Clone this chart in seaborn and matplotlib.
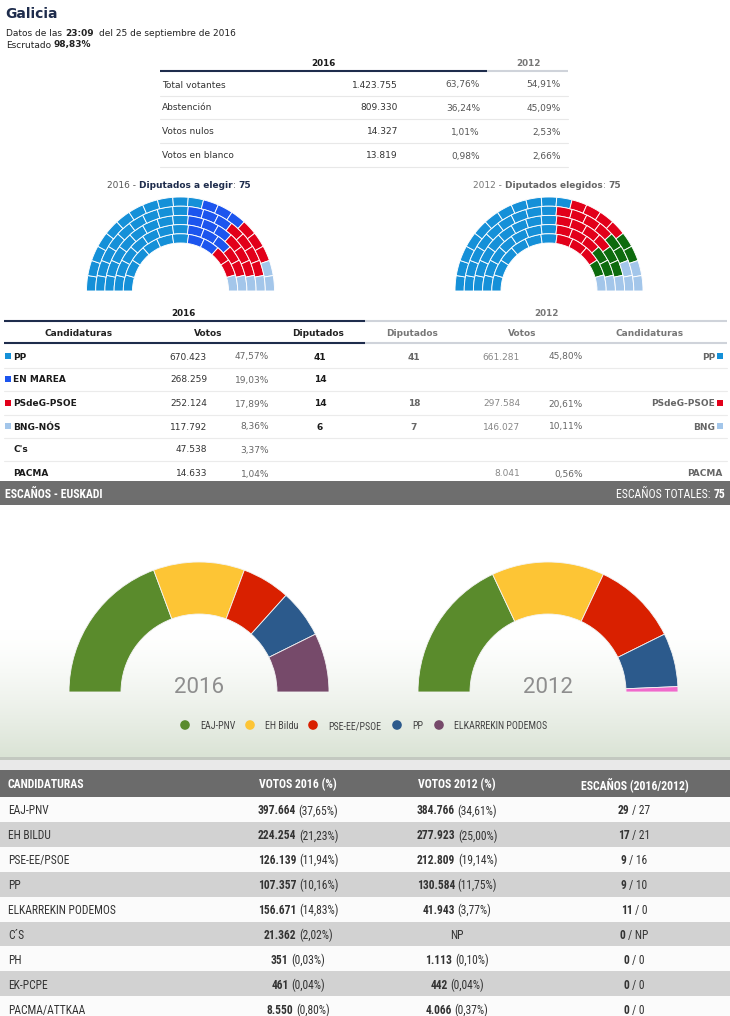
import numpy as np
import matplotlib
matplotlib.use("Agg")
import matplotlib.pyplot as plt
from matplotlib.patches import Wedge, Rectangle
from matplotlib import font_manager
import seaborn as sns

# ---------------- DATA ----------------
# Galicia summary
sum_labels = ["Total votantes", "Abstención", "Votos nulos", "Votos en blanco"]
sum_votes16 = [1423755, 809330, 14327, 13819]
sum_pct16 = [63.76, 36.24, 1.01, 0.98]
sum_pct12 = [54.91, 45.09, 2.53, 2.66]

# Galicia parties 2016 table
gal16_names = ["PP", "EN MAREA", "PSdeG-PSOE", "BNG-NÓS", "C's", "PACMA"]
gal16_votes = [670423, 268259, 252124, 117792, 47538, 14633]
gal16_pct = [47.57, 19.03, 17.89, 8.36, 3.37, 1.04]
gal16_seats = [41, 14, 14, 6, None, None]
gal16_colors = ["#1590d8", "#1c55ee", "#e2001a", "#a3c6ea", None, None]

# Galicia parties 2012 table
gal12_names = ["PP", None, "PSdeG-PSOE", "BNG", None, "PACMA"]
gal12_votes = [661281, None, 297584, 146027, None, 8041]
gal12_pct = [45.80, None, 20.61, 10.11, None, 0.56]
gal12_seats = [41, None, 18, 7, None, None]
gal12_colors = ["#1590d8", None, "#e2001a", "#a3c6ea", None, None]

# Galicia hemicycles
hemi16_parties = ["PP", "EN MAREA", "PSdeG-PSOE", "BNG-NÓS"]
hemi16_seats = [41, 14, 14, 6]
hemi16_colors = ["#1590d8", "#1c55ee", "#e2001a", "#a3c6ea"]
hemi12_parties = ["PP", "PSdeG-PSOE", "AGE", "BNG"]
hemi12_seats = [41, 18, 9, 7]
hemi12_colors = ["#1590d8", "#e2001a", "#0d6b0d", "#a3c6ea"]

# Euskadi seats (semi-donuts)
eus_donut_parties16 = ["EAJ-PNV", "EH Bildu", "PSE-EE/PSOE", "PP", "ELKARREKIN PODEMOS"]
eus_donut_seats16 = [29, 17, 9, 9, 11]
eus_donut_parties12 = ["EAJ-PNV", "EH Bildu", "PSE-EE/PSOE", "PP", "UPyD"]
eus_donut_seats12 = [27, 21, 16, 10, 1]
eus_party_colors = {"EAJ-PNV": "#5a8b2c", "EH Bildu": "#fdc535", "PSE-EE/PSOE": "#d92000",
                    "PP": "#2c5a8c", "ELKARREKIN PODEMOS": "#764a6a", "UPyD": "#f06acb"}
eus_legend = ["EAJ-PNV", "EH Bildu", "PSE-EE/PSOE", "PP", "ELKARREKIN PODEMOS"]

# Euskadi table
eus_names = ["EAJ-PNV", "EH BILDU", "PSE-EE/PSOE", "PP", "ELKARREKIN PODEMOS",
             "C´S", "PH", "EK-PCPE", "PACMA/ATTKAA"]
eus_votes16 = [397664, 224254, 126139, 107357, 156671, 21362, 351, 461, 8550]
eus_pct16 = [37.65, 21.23, 11.94, 10.16, 14.83, 2.02, 0.03, 0.04, 0.80]
eus_votes12 = [384766, 277923, 212809, 130584, 41943, None, 1113, 442, 4066]
eus_pct12 = [34.61, 25.00, 19.14, 11.75, 3.77, None, 0.10, 0.04, 0.37]
eus_seats16 = ["29", "17", "9", "9", "11", "0", "0", "0", "0"]
eus_seats12 = ["27", "21", "16", "10", "0", "NP", "0", "0", "0"]


def fnum(v):
    return f"{v:,}".replace(",", ".")


def fpct(p):
    return f"{p:.2f}".replace(".", ",") + "%"


# ---------------- STYLE ----------------
sns.set_theme(style="white")
plt.rcParams['font.family'] = ['DejaVu Sans']
_names = {f.name for f in font_manager.fontManager.ttflist}
COND = next((n for n in ["Roboto Condensed", "Liberation Sans Narrow", "Open Sans Condensed",
                         "Roboto", "Liberation Sans"] if n in _names), "DejaVu Sans")
PLAIN = next((n for n in ["Roboto", "Liberation Sans", "Open Sans"] if n in _names), "DejaVu Sans")

fig = plt.figure(figsize=(7.3, 10.16), dpi=100)
ax = fig.add_axes([0, 0, 1, 1])
ax.set_xlim(0, 730)
ax.set_ylim(1016, 0)
ax.axis("off")
renderer = fig.canvas.get_renderer()

NAVY = "#1e2c4c"


def rich(x, y, parts, ha="left", size=6.5, family="DejaVu Sans"):
    objs = []
    for s, w, c in parts:
        t = ax.text(0, y, s, fontsize=size, fontweight=w, color=c, ha="left",
                    va="center_baseline", family=family)
        objs.append(t)
    widths = []
    for t, (s, w, c) in zip(objs, parts):
        st = s.strip(" ")
        t.set_text(st)
        wd = t.get_window_extent(renderer).width if st else 0
        probe = ax.text(0, 0, "n n", fontsize=size, fontweight=w, family=family)
        w2 = probe.get_window_extent(renderer).width
        probe.set_text("nn")
        w1 = probe.get_window_extent(renderer).width
        probe.remove()
        sp = w2 - w1
        lead = (len(s) - len(s.lstrip(" "))) * sp
        trail = (len(s) - len(s.rstrip(" "))) * sp
        widths.append((lead, wd, trail))
    total = sum(a + b + c for a, b, c in widths)
    start = x if ha == "left" else (x - total / 2 if ha == "center" else x - total)
    for t, (a, b, c) in zip(objs, widths):
        t.set_x(start + a)
        start += a + b + c
    return objs


def txt(x, y, s, ha="left", size=6.5, weight="normal", color="#333333", family="DejaVu Sans"):
    return ax.text(x, y, s, ha=ha, va="center_baseline", fontsize=size, fontweight=weight,
                   color=color, family=family)


# ---------------- GALICIA ----------------
txt(5, 12, "Galicia", size=10, weight="bold", color=NAVY)
rich(6, 32, [("Datos de las ", "normal", "#222222"), ("23:09", "bold", "#222222"),
             ("  del 25 de septiembre de 2016", "normal", "#222222")])
rich(6, 44, [("Escrutado ", "normal", "#222222"), ("98,83%", "bold", "#222222")])

# summary table
txt(323, 62, "2016", ha="center", size=6.3, weight="bold", color="#1a1a1a")
txt(528, 62, "2012", ha="center", size=6.3, weight="bold", color="#777777")
ax.plot([160, 487], [71, 71], color=NAVY, lw=1.5, solid_capstyle="butt")
ax.plot([487, 568], [71, 71], color="#cfd3da", lw=1.5, solid_capstyle="butt")
sum_rows_y = [84, 107, 131, 155]
for i, yy in enumerate(sum_rows_y):
    txt(162, yy, sum_labels[i], color="#333333")
    txt(398, yy, fnum(sum_votes16[i]), ha="right", color="#333333")
    txt(480, yy, fpct(sum_pct16[i]), ha="right", color="#555555")
    txt(561, yy, fpct(sum_pct12[i]), ha="right", color="#555555")
    ax.plot([160, 568], [yy + 12, yy + 12], color="#e8e8e8", lw=0.8)

# hemicycle titles
rich(107, 185, [("2016 - ", "normal", "#555555"), ("Diputados a elegir", "bold", NAVY),
                (": ", "normal", "#555555"), ("75", "bold", NAVY)])
rich(473, 185, [("2012 - ", "normal", "#777777"), ("Diputados elegidos", "bold", "#666666"),
                (": ", "normal", "#777777"), ("75", "bold", "#666666")])


def hemicycle(cx, cy, R, r, seats, colors, rings=(11, 13, 15, 17, 19)):
    th = (R - r) / len(rings)
    seatlist = []
    for i, n in enumerate(rings):
        rin = r + i * th
        for j in range(n):
            a0, a1 = 180 * j / n, 180 * (j + 1) / n
            seatlist.append(((a0 + a1) / 2, -i, rin, a0, a1))
    seatlist.sort()
    owner = np.repeat(np.arange(len(seats)), seats)
    for (ac, _, rin, a0, a1), p in zip(seatlist, owner):
        ax.add_patch(Wedge((cx, cy), rin + th, 180 + a0, 180 + a1, width=th,
                           facecolor=colors[p], edgecolor="white", lw=0.65))


hemicycle(180.5, 291, 94, 48, hemi16_seats, hemi16_colors)
hemicycle(549, 291, 94, 48, hemi12_seats, hemi12_colors)

# party table
txt(183, 313, "2016", ha="center", size=6.3, weight="bold", color="#1a1a1a")
txt(546, 313, "2012", ha="center", size=6.3, weight="bold", color="#777777")
for yl in (321, 343):
    ax.plot([4, 365], [yl, yl], color=NAVY, lw=1.5, solid_capstyle="butt")
    ax.plot([365, 727], [yl, yl], color="#cfd3da", lw=1.5, solid_capstyle="butt")
txt(79, 333, "Candidaturas", ha="center", weight="bold", color="#222222")
txt(208, 333, "Votos", ha="center", weight="bold", color="#222222")
txt(318, 333, "Diputados", ha="center", weight="bold", color="#222222")
txt(412, 333, "Diputados", ha="center", weight="bold", color="#777777")
txt(522, 333, "Votos", ha="center", weight="bold", color="#777777")
txt(650, 333, "Candidaturas", ha="center", weight="bold", color="#777777")

party_rows_y = [356, 379, 403, 426, 449, 473]
for i, yy in enumerate(party_rows_y):
    if gal16_colors[i]:
        ax.add_patch(Rectangle((5, yy - 3.5), 6, 6, color=gal16_colors[i], lw=0))
    txt(13, yy, gal16_names[i], weight="bold", color="#1a1a1a")
    txt(207, yy, fnum(gal16_votes[i]), ha="right", color="#333333")
    txt(269, yy, fpct(gal16_pct[i]), ha="right", color="#666666")
    if gal16_seats[i] is not None:
        txt(320, yy, str(gal16_seats[i]), ha="center", weight="bold", color="#1a1a1a")
    if gal12_seats[i] is not None:
        txt(414, yy, str(gal12_seats[i]), ha="center", weight="bold", color="#666666")
    if gal12_votes[i] is not None:
        txt(520, yy, fnum(gal12_votes[i]), ha="right", color="#888888")
        txt(583, yy, fpct(gal12_pct[i]), ha="right", color="#666666")
    if gal12_names[i]:
        if gal12_colors[i]:
            txt(715, yy, gal12_names[i], ha="right", weight="bold", color="#666666")
            ax.add_patch(Rectangle((717, yy - 3.5), 6, 6, color=gal12_colors[i], lw=0))
        else:
            txt(722, yy, gal12_names[i], ha="right", weight="bold", color="#666666")
    if i < len(party_rows_y) - 1:
        ax.plot([4, 727], [yy + 11.5, yy + 11.5], color="#ebebeb", lw=0.8)

# ---------------- EUSKADI ----------------
# background gradient
t = np.linspace(0, 1, 256)
grad = np.clip((t - 0.5) / 0.5, 0, 1) ** 1.4
c0 = np.array([1.0, 1.0, 1.0])
c1 = np.array([0xda, 0xe3, 0xd5]) / 255
img = (c0[None, :] * (1 - grad[:, None]) + c1[None, :] * grad[:, None])[:, None, :]
ax.imshow(img, extent=[0, 730, 757, 505], aspect="auto", zorder=0)
ax.set_xlim(0, 730)
ax.set_ylim(1016, 0)
ax.add_patch(Rectangle((0, 757), 730, 2.5, color="#c3c8c0", lw=0))
ax.add_patch(Rectangle((0, 759.5), 730, 11, color="#e9e9e9", lw=0))

# header bar
ax.add_patch(Rectangle((0, 481), 730, 24, color="#6e6e6e", lw=0))
txt(5, 493, "ESCAÑOS - EUSKADI", size=8.5, weight="bold", color="white", family=COND)
rich(725, 493, [("ESCAÑOS TOTALES: ", "normal", "white"), ("75", "bold", "white")],
     ha="right", size=8.5, family=COND)


def semidonut(cx, cy, R, w, parties, seats):
    cum = np.concatenate([[0], np.cumsum(seats)]) / sum(seats) * 180
    for k, p in enumerate(parties):
        ax.add_patch(Wedge((cx, cy), R, 180 + cum[k], 180 + cum[k + 1], width=w,
                           facecolor=eus_party_colors[p], edgecolor="#f4f4f4", lw=0.6))


semidonut(199, 692, 130, 52, eus_donut_parties16, eus_donut_seats16)
semidonut(548, 692, 130, 52, eus_donut_parties12, eus_donut_seats12)
txt(199, 685, "2016", ha="center", size=16, color="#8e8e8e", family=PLAIN)
txt(548, 685, "2012", ha="center", size=16, color="#8e8e8e", family=PLAIN)

leg_dot_x = [185, 250, 313, 397, 439]
sns.scatterplot(x=leg_dot_x, y=[725] * 5, hue=eus_legend,
                palette=[eus_party_colors[p] for p in eus_legend],
                s=48, linewidth=0, legend=False, ax=ax, zorder=5)
for dx, p in zip(leg_dot_x, eus_legend):
    txt(dx + 15, 725, p, size=7.2, color="#444444", family=COND)
ax.set_xlim(0, 730)
ax.set_ylim(1016, 0)

# table
ax.add_patch(Rectangle((0, 770), 730, 27, color="#6b6b6b", lw=0))
hy = 783.5
txt(8, hy, "CANDIDATURAS", size=8.5, weight="bold", color="white", family=COND)
txt(298, hy, "VOTOS 2016 (%)", ha="center", size=8.5, weight="bold", color="white", family=COND)
txt(457, hy, "VOTOS 2012 (%)", ha="center", size=8.5, weight="bold", color="white", family=COND)
txt(635, hy, "ESCAÑOS (2016/2012)", ha="center", size=8.5, weight="bold", color="white", family=COND)

row_h = 24.9
for i, name in enumerate(eus_names):
    top = 797 + i * row_h
    ax.add_patch(Rectangle((0, top), 730, row_h, color="#d2d2d2" if i % 2 else "#fbfbfb", lw=0))
    yy = top + row_h / 2
    txt(8, yy, name, size=8.3, color="#333333", family=COND)
    rich(298, yy, [(fnum(eus_votes16[i]), "bold", "#333333"),
                   (" (" + fpct(eus_pct16[i]) + ")", "normal", "#333333")],
         ha="center", size=8.3, family=COND)
    if eus_votes12[i] is None:
        txt(457, yy, "NP", ha="center", size=8.3, color="#333333", family=COND)
    else:
        rich(457, yy, [(fnum(eus_votes12[i]), "bold", "#333333"),
                       (" (" + fpct(eus_pct12[i]) + ")", "normal", "#333333")],
             ha="center", size=8.3, family=COND)
    rich(634, yy, [(eus_seats16[i], "bold", "#333333"), (" / " + eus_seats12[i], "normal", "#333333")],
         ha="center", size=8.3, family=COND)

fig.savefig("out.png", dpi=100)
